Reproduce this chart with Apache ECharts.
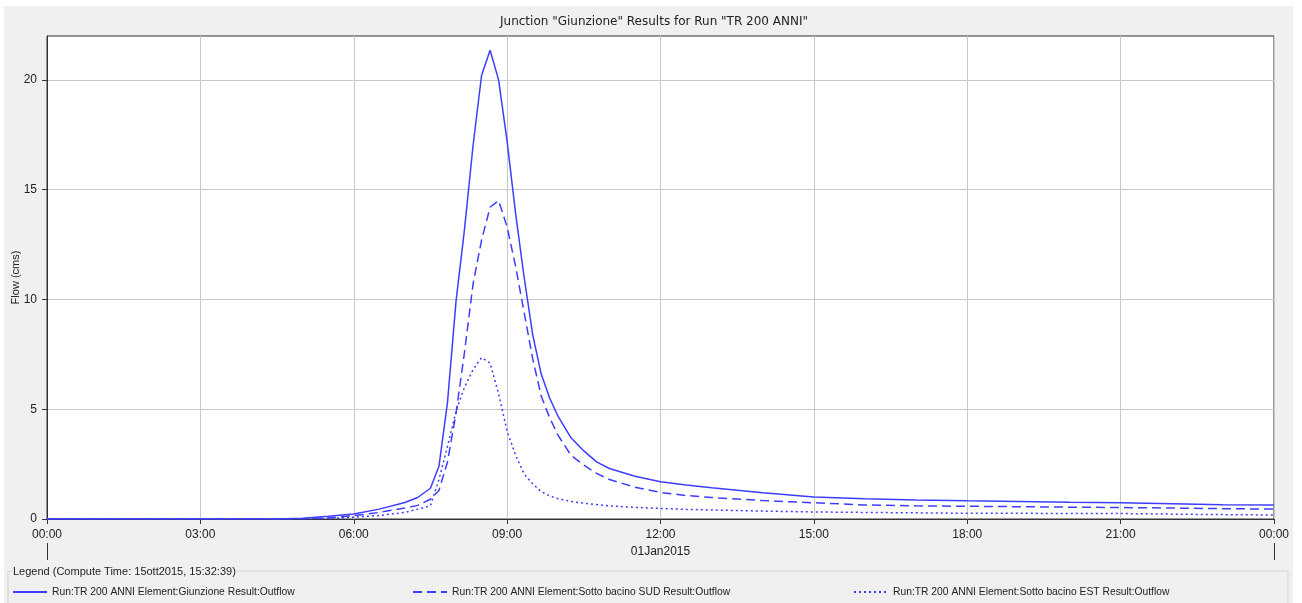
<!DOCTYPE html>
<html>
<head>
<meta charset="utf-8">
<script src="https://cdn.jsdelivr.net/npm/echarts@6/dist/echarts.min.js"></script>
<style>
  html, body { margin: 0; padding: 0; background: #fff; }
  #main { width: 1302px; height: 603px; }
</style>
</head>
<body>
<div id="main"></div>
<script>
// time of day (HH:MM), flows in cms
var times = ["00:00","04:30","05:00","05:30","06:00","06:30","07:00","07:15","07:30","07:40",
  "07:50","08:00","08:10","08:20","08:30","08:40","08:50","09:00","09:10","09:20",
  "09:30","09:40","09:50","10:00","10:15","10:30","10:45","11:00","11:30","12:00",
  "12:30","13:00","14:00","15:00","16:00","17:00","18:00","19:00","20:00","21:00",
  "22:00","23:00","24:00"];

var giunzione = [0, 0, 0.03, 0.12, 0.23, 0.45, 0.75, 0.98, 1.4, 2.4,
  5.3, 9.9, 13.2, 17.0, 20.2, 21.35, 20.0, 17.2, 13.9, 11.0,
  8.4, 6.6, 5.5, 4.66, 3.7, 3.1, 2.6, 2.3, 1.95, 1.7,
  1.55, 1.42, 1.2, 1.0, 0.92, 0.87, 0.83, 0.8, 0.76, 0.74,
  0.7, 0.65, 0.64];

var sud = [0, 0, 0.01, 0.05, 0.15, 0.3, 0.5, 0.62, 0.9, 1.3,
  2.6, 4.8, 7.6, 10.7, 12.7, 14.2, 14.5, 13.3, 11.5, 9.4,
  7.3, 5.6, 4.6, 3.8, 2.9, 2.45, 2.08, 1.8, 1.45, 1.21,
  1.07, 0.98, 0.84, 0.74, 0.64, 0.6, 0.58, 0.56, 0.54, 0.52,
  0.5, 0.47, 0.45];

var est = [0, 0, 0.01, 0.03, 0.08, 0.16, 0.3, 0.45, 0.6, 1.8,
  3.3, 4.9, 6.0, 6.8, 7.35, 7.1, 5.7, 4.0, 2.9, 2.05,
  1.6, 1.25, 1.05, 0.92, 0.8, 0.72, 0.66, 0.6, 0.53, 0.48,
  0.44, 0.41, 0.36, 0.32, 0.3, 0.28, 0.26, 0.26, 0.25, 0.25,
  0.22, 0.2, 0.18];

var yTicks = [0, 5, 10, 15, 20];

var names = [
  "Run:TR 200 ANNI Element:Giunzione Result:Outflow",
  "Run:TR 200 ANNI Element:Sotto bacino SUD Result:Outflow",
  "Run:TR 200 ANNI Element:Sotto bacino EST Result:Outflow"
];

function toHours(t) {
  var p = t.split(":");
  return +p[0] + (+p[1]) / 60;
}
function pairs(vals) {
  return times.map(function (t, i) { return [toHours(t), vals[i]]; });
}
function pad(n) { return (n < 10 ? "0" : "") + n; }

var font = "Liberation Sans";
var wide = "DejaVu Sans";
var blue = "#3d3dff";

var myChart = echarts.init(document.getElementById("main"));

option = {
  animation: false,
  textStyle: { fontFamily: font },
  title: {
    text: 'Junction "Giunzione" Results for Run "TR 200 ANNI"',
    left: 495,
    top: 11,
    textStyle: { fontSize: 12, fontWeight: "normal", color: "#222", fontFamily: wide }
  },
  graphic: [
    {
      type: "rect", z: -10, silent: true,
      shape: { x: 4, y: 6, width: 1289, height: 597 },
      style: { fill: "#f0f0f0" }
    },
    {
      type: "rect", z: -9, silent: true,
      shape: { x: 8, y: 571, width: 1280, height: 40 },
      style: { fill: "none", stroke: "#d4d4d4", lineWidth: 1 }
    },
    {
      type: "text", z: -8, silent: true,
      x: 12, y: 566,
      style: {
        text: "Legend (Compute Time: 15ott2015, 15:32:39)",
        fill: "#222", font: "11px " + font,
        backgroundColor: "#f0f0f0", padding: [0, 1]
      }
    }
  ],
  legend: [
    { left: 12, top: 587, data: [names[0]] },
    { left: 412, top: 587, data: [names[1]] },
    { left: 853, top: 587, data: [names[2]] }
  ].map(function (l) {
    l.itemWidth = 34;
    l.itemHeight = 10;
    l.itemGap = 4;
    l.padding = 0;
    l.itemStyle = { opacity: 0 };
    l.textStyle = { fontSize: 10.3, color: "#222", fontFamily: font };
    return l;
  }),
  grid: {
    left: 47,
    right: 28,
    top: 36,
    bottom: 84,
    outerBoundsMode: "none",
    show: true,
    backgroundColor: "#fff",
    borderColor: "#333",
    borderWidth: 1
  },
  xAxis: [
    {
      type: "value",
      min: 0,
      max: 24,
      interval: 3,
      axisLine: { lineStyle: { color: "#333" } },
      axisTick: { length: 5, lineStyle: { color: "#333" } },
      axisLabel: {
        color: "#222",
        fontSize: 12,
        margin: 10,
        formatter: function (v) { return pad(v % 24) + ":00"; }
      },
      splitLine: { lineStyle: { color: "#c8c8c8" } }
    },
    {
      type: "value",
      min: 0,
      max: 24,
      position: "bottom",
      offset: 24,
      axisLine: { show: false },
      axisTick: { customValues: [0, 24], length: 17, lineStyle: { color: "#333" } },
      axisLabel: {
        customValues: [12],
        color: "#222",
        fontSize: 12,
        margin: 3,
        formatter: function () { return "01Jan2015"; }
      },
      splitLine: { show: false }
    }
  ],
  yAxis: [
    {
      type: "value",
      min: 0,
      max: 22,
      name: "Flow (cms)",
      nameLocation: "middle",
      nameGap: 26,
      nameMoveOverlap: false,
      nameTextStyle: { fontSize: 11, color: "#222" },
      axisLine: { show: true, lineStyle: { color: "#333" } },
      axisTick: { show: true, customValues: yTicks, length: 5, lineStyle: { color: "#333" } },
      axisLabel: { customValues: yTicks, color: "#222", fontSize: 12, margin: 10 },
      splitLine: { lineStyle: { color: "#c8c8c8" } }
    }
  ],
  series: [
    {
      name: names[0],
      type: "line",
      data: pairs(giunzione),
      showSymbol: false,
      symbol: "none",
      lineStyle: { color: blue, width: 1.5, type: "solid" },
      itemStyle: { color: blue }
    },
    {
      name: names[1],
      type: "line",
      data: pairs(sud),
      showSymbol: false,
      symbol: "none",
      lineStyle: { color: blue, width: 1.5, type: [9, 5] },
      itemStyle: { color: blue }
    },
    {
      name: names[2],
      type: "line",
      data: pairs(est),
      showSymbol: false,
      symbol: "none",
      lineStyle: { color: blue, width: 1.5, type: [2, 3] },
      itemStyle: { color: blue }
    }
  ]
};

myChart.setOption(option);
</script>
</body>
</html>
